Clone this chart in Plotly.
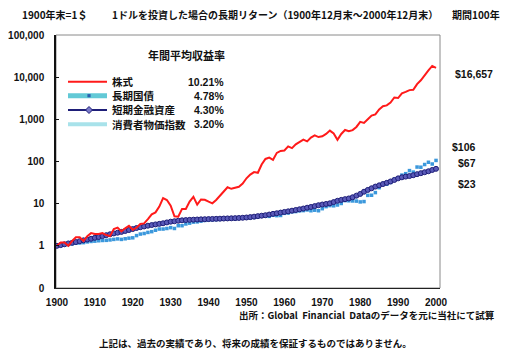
import plotly.graph_objects as go

years = list(range(1900, 2001))

stocks = [1.0, 1.2, 1.2, 1.0, 1.3, 1.6, 1.6, 1.3, 1.7, 2.0,
          1.9, 1.9, 2.0, 1.8, 1.7, 2.5, 2.7, 2.2, 2.6, 3.0,
          2.4, 2.7, 3.3, 3.4, 4.3, 5.6, 6.2, 8.5, 13.5, 12.2,
          9.0, 5.0, 4.9, 7.5, 7.5, 11.2, 14.5, 9.5, 12.6, 12.4,
          11.2, 10.2, 12.2, 15.4, 18.6, 24.5, 22.5, 23.8, 25.2, 30.0,
          40.0, 49.0, 56.0, 54.0, 85.0, 115.0, 124.0, 110.0, 160.0, 178.0,
          182.0, 228.0, 208.0, 255.0, 297.0, 330.0, 300.0, 370.0, 417.0, 380.0,
          395.0, 450.0, 540.0, 460.0, 327.0, 450.0, 560.0, 520.0, 555.0, 660.0,
          870.0, 820.0, 1000.0, 1230.0, 1310.0, 1720.0, 2040.0, 2140.0, 2500.0, 3300.0,
          3200.0, 4150.0, 4480.0, 4930.0, 5000.0, 6850.0, 8450.0, 11250.0, 14500.0, 18500.0,
          16657.0]

bonds = [1.00, 1.03, 1.05, 1.08, 1.12, 1.15, 1.17, 1.19, 1.24, 1.27,
         1.29, 1.32, 1.34, 1.35, 1.38, 1.42, 1.46, 1.42, 1.47, 1.52,
         1.55, 1.75, 1.90, 1.96, 2.08, 2.17, 2.34, 2.50, 2.50, 2.58,
         2.70, 2.58, 3.00, 3.00, 3.30, 3.45, 3.65, 3.70, 3.85, 4.00,
         4.10, 4.15, 4.20, 4.25, 4.30, 4.45, 4.45, 4.40, 4.50, 4.62,
         4.65, 4.60, 4.72, 4.88, 5.05, 5.08, 5.00, 5.30, 5.20, 5.25,
         5.90, 6.00, 6.40, 6.50, 6.75, 6.85, 7.10, 6.80, 7.00, 6.80,
         7.60, 8.50, 9.00, 8.90, 9.30, 10.10, 11.80, 11.70, 11.60, 11.50,
         11.00, 11.21, 15.73, 15.84, 18.29, 23.95, 29.83, 29.02, 31.82, 37.59,
         39.91, 47.61, 51.45, 60.83, 56.11, 73.88, 73.19, 84.79, 95.87, 87.27,
         106.0]

tbills = [1.00, 1.04, 1.09, 1.14, 1.18, 1.23, 1.29, 1.35, 1.41, 1.47,
          1.55, 1.62, 1.70, 1.79, 1.88, 1.97, 2.05, 2.14, 2.25, 2.37,
          2.50, 2.65, 2.76, 2.88, 3.00, 3.11, 3.22, 3.32, 3.43, 3.59,
          3.74, 3.83, 3.94, 4.03, 4.08, 4.13, 4.17, 4.21, 4.25, 4.28,
          4.31, 4.34, 4.37, 4.40, 4.44, 4.47, 4.50, 4.54, 4.58, 4.63,
          4.70, 4.80, 4.92, 5.06, 5.18, 5.32, 5.52, 5.74, 5.92, 6.14,
          6.36, 6.58, 6.82, 7.08, 7.36, 7.66, 8.02, 8.35, 8.75, 9.20,
          9.55, 9.85, 10.2, 10.9, 11.7, 12.3, 12.8, 13.3, 14.2, 15.5,
          17.0, 19.2, 21.2, 23.2, 25.4, 27.2, 29.2, 31.2, 33.6, 36.5,
          39.8, 42.2, 43.8, 45.2, 47.3, 50.1, 52.8, 55.7, 58.7, 63.0,
          67.0]

series_names = ["株式", "長期国債", "短期金融資産", "消費者物価指数"]
annual_returns = ["10.21%", "4.78%", "4.30%", "3.20%"]
end_labels = ["$16,657", "$106", "$67", "$23"]

y_tickvals = [0.1, 1, 10, 100, 1000, 10000, 100000]
y_ticktext = ["0", "1", "10", "100", "1,000", "10,000", "100,000"]
x_tickvals = list(range(1900, 2001, 10))

JP = "Noto Sans CJK JP"
LAT = "Liberation Sans, Arial"

fig = go.Figure()
fig.add_trace(go.Scatter(x=years, y=bonds, mode="markers", name=series_names[1],
                         marker=dict(symbol="square", size=3.5, color="#3b98dc"),
                         showlegend=False))
fig.add_trace(go.Scatter(x=years, y=tbills, mode="lines+markers", name=series_names[2],
                         line=dict(color="#1e1e78", width=1.2),
                         marker=dict(symbol="circle", size=5, color="#5a5ab8",
                                     line=dict(color="#1e1e78", width=1)),
                         showlegend=False))
fig.add_trace(go.Scatter(x=years, y=stocks, mode="lines", name=series_names[0],
                         line=dict(color="#ff1a1a", width=2), showlegend=False))

# work in reference pixel coords (plot area 56..440 x 35..288)
W, H = 384.0, 253.0
def px(xp):
    return (xp - 56) / W
def py(yp):
    return (288 - yp) / H

shapes = []
annotations = []

shapes.append(dict(type="rect", xref="paper", yref="paper", x0=0, y0=0, x1=1, y1=1,
                   line=dict(color="#8a8a8a", width=1), layer="below"))

rows_y = [81.7, 95.7, 110.0, 124.3]
lx0, lx1, lmid = 68, 107, 89
swatch = [
    dict(color="#ff1a1a", width=2),
    dict(color="#62c9d6", width=5),
    dict(color="#1e1e78", width=2),
    dict(color="#a8e2ea", width=4),
]
for i, ry in enumerate(rows_y):
    shapes.append(dict(type="line", xref="paper", yref="paper",
                       x0=px(lx0), x1=px(lx1), y0=py(ry), y1=py(ry), line=swatch[i]))
    annotations.append(dict(text=series_names[i], xref="paper", yref="paper",
                            x=px(110), y=py(ry), xanchor="left", yanchor="middle",
                            showarrow=False, font=dict(family=JP, size=10.5, color="#111", weight="bold")))
    annotations.append(dict(text=annual_returns[i], xref="paper", yref="paper",
                            x=px(226), y=py(ry), xanchor="right", yanchor="middle",
                            showarrow=False, font=dict(family=LAT, size=10.5, color="#111", weight="bold")))
r = 1.6
shapes.append(dict(type="rect", xref="paper", yref="paper",
                   x0=px(lmid - r), x1=px(lmid + r), y0=py(rows_y[1] + r), y1=py(rows_y[1] - r),
                   fillcolor="#2a5fb0", line=dict(width=0)))
d = 3.5
cy = rows_y[2]
shapes.append(dict(type="path", xref="paper", yref="paper",
                   path=f"M {px(lmid-d)},{py(cy)} L {px(lmid)},{py(cy-d)} L {px(lmid+d)},{py(cy)} L {px(lmid)},{py(cy+d)} Z",
                   fillcolor="#7a7ac8", line=dict(color="#1e1e78", width=1)))

annotations.append(dict(text="年間平均収益率", xref="paper", yref="paper", x=px(186), y=py(55),
                        xanchor="center", yanchor="middle", showarrow=False,
                        font=dict(family=JP, size=11, color="#111", weight="bold")))

end_pos = [(453, 74, "left"), (478, 147, "right"), (478, 163, "right"), (478, 184, "right")]
for lab, (ex, ey, anc) in zip(end_labels, end_pos):
    annotations.append(dict(text=lab, xref="paper", yref="paper", x=px(ex), y=py(ey),
                            xanchor=anc, yanchor="middle", showarrow=False,
                            font=dict(family=LAT, size=10.5, color="#111", weight="bold")))

annotations.append(dict(text="1900年末=1＄", xref="paper", yref="paper", x=px(20), y=py(14.5),
                        xanchor="left", yanchor="middle", showarrow=False,
                        font=dict(family=JP, size=10, color="#111", weight="bold")))
annotations.append(dict(text="1ドルを投資した場合の長期リターン（1900年12月末～2000年12月末）",
                        xref="paper", yref="paper", x=px(110), y=py(14.5),
                        xanchor="left", yanchor="middle", showarrow=False,
                        font=dict(family=JP, size=10, color="#111", weight="bold")))
annotations.append(dict(text="期間100年", xref="paper", yref="paper", x=px(450), y=py(14.5),
                        xanchor="left", yanchor="middle", showarrow=False,
                        font=dict(family=JP, size=10, color="#111", weight="bold")))
annotations.append(dict(text="出所：Global\u00a0 Financial\u00a0 Dataのデータを元に当社にて試算",
                        xref="paper", yref="paper", x=px(497), y=py(314.5),
                        xanchor="right", yanchor="middle", showarrow=False,
                        font=dict(family=JP, size=9.5, color="#111", weight="bold")))
annotations.append(dict(text="上記は、過去の実績であり、将来の成績を保証するものではありません。",
                        xref="paper", yref="paper", x=px(255), y=py(343),
                        xanchor="center", yanchor="middle", showarrow=False,
                        font=dict(family=JP, size=9.5, color="#111", weight="bold")))

OFF = 8  # default body margin of the HTML page
fig.update_layout(
    width=521 - OFF, height=356 - OFF,
    margin=dict(l=56 - OFF, r=81, t=35 - OFF, b=68, autoexpand=False),
    paper_bgcolor="white", plot_bgcolor="white",
    showlegend=False,
    shapes=shapes, annotations=annotations,
    xaxis=dict(range=[1899.75, 2001.05], tickvals=x_tickvals, ticks="", showgrid=False,
               zeroline=False, showline=True, linecolor="#222", linewidth=1,
               automargin=False,
               tickfont=dict(family=LAT, size=10, color="#111", weight="bold"),
               ticklabelstandoff=5),
    yaxis=dict(type="log", range=[-1, 5], tickvals=y_tickvals, ticktext=y_ticktext,
               ticks="inside", ticklen=3, tickcolor="#111", showgrid=False, zeroline=False,
               showline=True, linecolor="#111", linewidth=1.5,
               automargin=False,
               tickfont=dict(family=LAT, size=10, color="#111", weight="bold"),
               ticklabelstandoff=8),
)

fig.write_html("out.html")
